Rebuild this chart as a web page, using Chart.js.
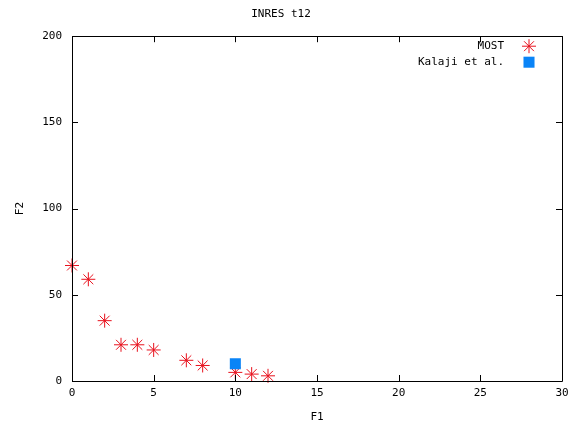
<!DOCTYPE html>
<html lang="en">
<head>
    <meta charset="UTF-8">
    <title>INRES t12</title>
    <script src="https://cdn.jsdelivr.net/npm/chart.js"></script>
    <style>
        body {
            margin: 0;
            padding: 0;
            background-color: #ffffff;
        }

        .chart-container {
            width: 580px;
            height: 424px;
        }
    </style>
</head>
<body>
    <div class="chart-container">
        <canvas id="paretoChart"></canvas>
    </div>
    <script>
        // values
        const mostF1 = [0, 1, 2, 3, 4, 5, 7, 8, 10, 11, 12];
        const mostF2 = [67, 59, 35, 21, 21, 18, 12, 9, 5, 4, 3];
        const kalajiF1 = [10];
        const kalajiF2 = [10];
        const xTicks = [0, 5, 10, 15, 20, 25, 30];
        const yTicks = [0, 50, 100, 150, 200];

        const textFont = "'DejaVu Sans Mono', monospace";

        // gnuplot style frame: box border, inward ticks on all four sides, legend at top right
        const framePlugin = {
            id: 'frame',
            afterDraw(chart) {
                const ctx = chart.ctx;
                const a = chart.chartArea;
                const xs = chart.scales.x;
                const ys = chart.scales.y;
                const len = 6;
                ctx.save();
                ctx.strokeStyle = '#000000';
                ctx.lineWidth = 1;
                ctx.beginPath();
                ctx.rect(Math.round(a.left) + 0.5, Math.round(a.top) + 0.5,
                         Math.round(a.right - a.left), Math.round(a.bottom - a.top));
                xTicks.forEach(v => {
                    const px = Math.round(xs.getPixelForValue(v)) + 0.5;
                    ctx.moveTo(px, a.bottom);
                    ctx.lineTo(px, a.bottom - len);
                    ctx.moveTo(px, a.top);
                    ctx.lineTo(px, a.top + len);
                });
                yTicks.forEach(v => {
                    const py = Math.round(ys.getPixelForValue(v)) + 0.5;
                    ctx.moveTo(a.left, py);
                    ctx.lineTo(a.left + len, py);
                    ctx.moveTo(a.right, py);
                    ctx.lineTo(a.right - len, py);
                });
                ctx.stroke();

                // legend
                ctx.font = '11px ' + textFont;
                ctx.textAlign = 'right';
                ctx.textBaseline = 'middle';
                chart.data.datasets.slice().sort((d1, d2) => d2.order - d1.order).forEach((ds, i) => {
                    const y = a.top + 10 + i * 16;
                    const x = a.right - 33;
                    ctx.fillStyle = '#000000';
                    ctx.fillText(ds.label, a.right - 58, y);
                    ctx.strokeStyle = ds.borderColor;
                    ctx.fillStyle = ds.backgroundColor;
                    ctx.lineWidth = ds.borderWidth;
                    if (ds.pointStyle === 'rect') {
                        const s = ds.pointRadius * Math.SQRT1_2;
                        ctx.fillRect(x - s, y - s, 2 * s, 2 * s);
                    } else {
                        Chart.helpers.drawPoint(ctx, {
                            pointStyle: ds.pointStyle,
                            radius: ds.pointRadius,
                            borderWidth: ds.borderWidth,
                            rotation: 0
                        }, x, y);
                    }
                });
                ctx.restore();
            }
        };

        const ctx = document.getElementById('paretoChart').getContext('2d');
        new Chart(ctx, {
            type: 'scatter',
            data: {
                datasets: [
                    {
                        label: 'Kalaji et al.',
                        data: kalajiF1.map((x, i) => ({ x: x, y: kalajiF2[i] })),
                        pointStyle: 'rect',
                        pointRadius: 7.8,
                        pointHoverRadius: 7.8,
                        borderWidth: 0,
                        borderColor: '#0a84f7',
                        backgroundColor: '#0a84f7',
                        clip: false,
                        order: 0
                    },
                    {
                        label: 'MOST',
                        data: mostF1.map((x, i) => ({ x: x, y: mostF2[i] })),
                        pointStyle: 'star',
                        pointRadius: 7,
                        pointHoverRadius: 7,
                        borderWidth: 1,
                        borderColor: '#e8101c',
                        backgroundColor: '#e8101c',
                        clip: false,
                        order: 1
                    }
                ]
            },
            options: {
                responsive: true,
                maintainAspectRatio: false,
                animation: false,
                layout: {
                    padding: { left: 0, right: 18, top: 0, bottom: 0 }
                },
                scales: {
                    x: {
                        type: 'linear',
                        min: 0,
                        max: 30,
                        afterBuildTicks: scale => {
                            scale.ticks = xTicks.map(v => ({ value: v }));
                        },
                        afterFit: scale => {
                            scale.height = 43;
                        },
                        grid: { display: false, drawTicks: false },
                        border: { display: false },
                        ticks: {
                            color: '#000000',
                            padding: 6,
                            font: { family: textFont, size: 11 }
                        },
                        title: {
                            display: true,
                            text: 'F1',
                            color: '#000000',
                            padding: { top: 0, bottom: 0 },
                            font: { family: textFont, size: 11 }
                        }
                    },
                    y: {
                        type: 'linear',
                        min: 0,
                        max: 200,
                        afterBuildTicks: scale => {
                            scale.ticks = yTicks.map(v => ({ value: v }));
                        },
                        afterFit: scale => {
                            scale.width = 72;
                        },
                        grid: { display: false, drawTicks: false },
                        border: { display: false },
                        ticks: {
                            color: '#000000',
                            padding: 10,
                            font: { family: textFont, size: 11 }
                        },
                        title: {
                            display: true,
                            text: 'F2',
                            color: '#000000',
                            padding: { top: 14, bottom: 0 },
                            font: { family: textFont, size: 11 }
                        }
                    }
                },
                plugins: {
                    legend: { display: false },
                    tooltip: { enabled: false },
                    title: {
                        display: true,
                        text: 'INRES t12',
                        color: '#000000',
                        font: { family: textFont, size: 11, weight: 'normal' },
                        padding: { top: 8, bottom: 15 }
                    }
                }
            },
            plugins: [framePlugin]
        });
    </script>
</body>
</html>
